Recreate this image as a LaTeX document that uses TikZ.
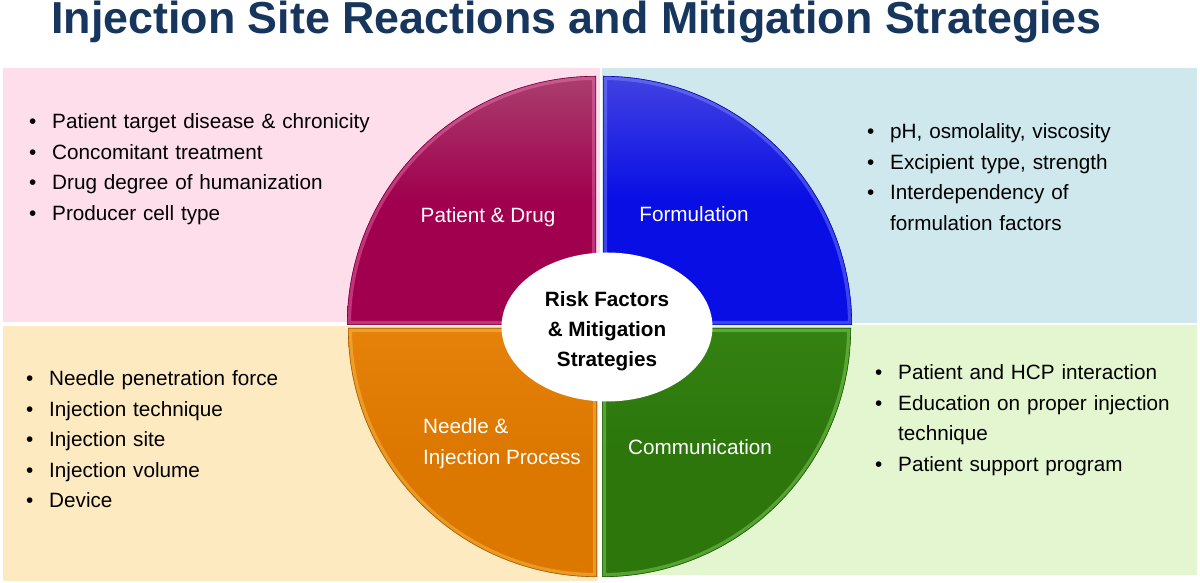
\documentclass[tikz,border=0pt]{standalone}
\usepackage{fontspec}
\setmainfont{Liberation Sans}
\usetikzlibrary{shapes.geometric, positioning}

\definecolor{titleblue}{RGB}{23,54,93}
\definecolor{pinkbg}{RGB}{253,222,234}
\definecolor{bluebg}{RGB}{206,232,237}
\definecolor{beigebg}{RGB}{253,234,193}
\definecolor{greenbg}{RGB}{228,246,208}
\definecolor{crimtop}{RGB}{170,62,110}
\definecolor{crimq}{RGB}{160,0,78}
\definecolor{crimhl}{RGB}{245,130,190}
\definecolor{bluetop}{RGB}{66,66,226}
\definecolor{blueq}{RGB}{8,14,228}
\definecolor{bluehl}{RGB}{140,150,255}
\definecolor{orangetop}{RGB}{230,130,10}
\definecolor{orangeq}{RGB}{220,120,0}
\definecolor{orangehl}{RGB}{255,205,90}
\definecolor{greentop}{RGB}{52,130,18}
\definecolor{greenq}{RGB}{44,118,12}
\definecolor{greenhl}{RGB}{150,230,110}

% bullet line with hanging indent
\newcommand{\bitem}[1]{\hangindent=23pt\hangafter=1\makebox[23pt][l]{\textbullet}#1\par}

\begin{document}
\begin{tikzpicture}[
    x=1pt, y=1pt,
    quadlbl/.style={text=white, font=\fontsize{20.7}{31}\selectfont, inner sep=0pt},
    bullets/.style={anchor=base west, inner sep=0pt, text width=420pt, align=left,
        font=\fontsize{20.7}{30.4}\selectfont},
    hub/.style={ellipse, fill=white, minimum width=211pt, minimum height=149pt, inner sep=0pt},
    hubtxt/.style={align=center, inner sep=0pt, font=\bfseries\fontsize{20.7}{30}\selectfont}
]
\useasboundingbox (0,0) rectangle (1200,583);
\fill[white] (0,0) rectangle (1200,583);

% -- title --
\node[anchor=base west, inner sep=0pt, text=titleblue,
      font=\bfseries\fontsize{44.8}{50}\selectfont] (title) at (51,549)
    {Injection Site Reactions and Mitigation Strategies};

% -- background panels --
\fill[pinkbg]   (3,261)   rectangle (600,515);
\fill[bluebg]   (602,260) rectangle (1197,515);
\fill[beigebg]  (3,2)     rectangle (598,257);
\fill[greenbg]  (602,8)   rectangle (1197,258);

% -- pie quadrants --
\foreach \cx/\cy/\a/\ctop/\cbot/\chl in {
    596/258/90/crimtop/crimq/crimhl,
    603/258/0/bluetop/blueq/bluehl,
    597/255/180/orangetop/orangeq/orangehl,
    602/255/270/greentop/greenq/greenhl}{
  \shade[top color=\ctop, bottom color=\cbot, middle color=\cbot]
    (\cx,\cy) -- ++(\a:249) arc[start angle=\a, end angle=\a+90, radius=249] -- cycle;
  \begin{scope}
    \clip (\cx,\cy) -- ++(\a:249) arc[start angle=\a, end angle=\a+90, radius=249] -- cycle;
    \draw[\chl, line width=8pt, opacity=.4]
      (\cx,\cy) -- ++(\a:249) arc[start angle=\a, end angle=\a+90, radius=249] -- cycle;
    \draw[\cbot!75!black, line width=1.2pt]
      (\cx,\cy) -- ++(\a:249) arc[start angle=\a, end angle=\a+90, radius=249] -- cycle;
  \end{scope}
}

% -- quadrant labels --
\node[quadlbl] (drug) at (488,366) {Patient \& Drug};
\node[quadlbl] (form) at (694,369) {Formulation};
\node[quadlbl, anchor=west, align=left] (needle) at (423,139) {Needle \&\\Injection Process};
\node[quadlbl] (comm) at (700,136) {Communication};

% -- centre hub --
\node[hub] (risk) at (607,256) {};
\node[hubtxt] (risklbl) at (607,252) {Risk Factors\\\& Mitigation\\Strategies};

% -- bullet lists --
\node[bullets] (drugpts) at (29,454) {%
  \bitem{Patient target disease \& chronicity}
  \bitem{Concomitant treatment}
  \bitem{Drug degree of humanization}
  \bitem{Producer cell type}};

\node[bullets] (formpts) at (867,444) {%
  \bitem{pH, osmolality, viscosity}
  \bitem{Excipient type, strength}
  \bitem{Interdependency of\newline formulation factors}};

\node[bullets] (needlepts) at (26,197) {%
  \bitem{Needle penetration force}
  \bitem{Injection technique}
  \bitem{Injection site}
  \bitem{Injection volume}
  \bitem{Device}};

\node[bullets] (commpts) at (875,203) {%
  \bitem{Patient and HCP interaction}
  \bitem{Education on proper injection\newline technique}
  \bitem{Patient support program}};

\end{tikzpicture}
\end{document}
